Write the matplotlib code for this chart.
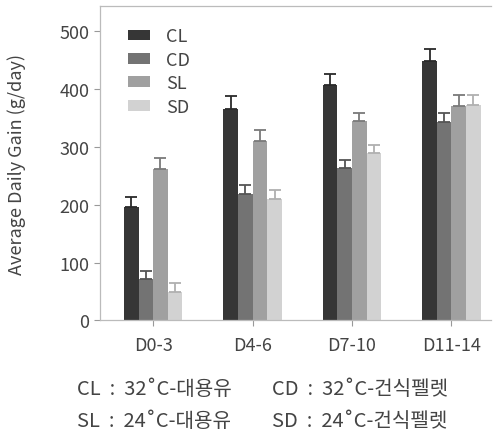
import numpy as np
import matplotlib
matplotlib.use("Agg")
import matplotlib.pyplot as plt

plt.rcParams['font.family'] = ['Noto Sans CJK KR', 'DejaVu Sans']

# 기간 및 처리구
periods = ["D0-3", "D4-6", "D7-10", "D11-14"]
groups = ["CL", "CD", "SL", "SD"]

# 평균 일당증체량 (g/day)
cl_mean = [196, 366, 407, 449]
cd_mean = [72, 218, 263, 343]
sl_mean = [262, 311, 344, 371]
sd_mean = [49, 210, 289, 372]

# 표준오차
cl_err = [17, 22, 20, 21]
cd_err = [13, 16, 15, 15]
sl_err = [19, 18, 15, 19]
sd_err = [16, 15, 15, 17]

# 범례 설명
notes_left = ["CL  :  32˚C-대용유", "SL  :  24˚C-대용유"]
notes_right = ["CD  :  32˚C-건식펠렛", "SD  :  24˚C-건식펠렛"]

means = [cl_mean, cd_mean, sl_mean, sd_mean]
errs = [cl_err, cd_err, sl_err, sd_err]
colors = ['#363636', '#737373', '#a0a0a0', '#d2d2d2']
err_colors = ['#2a2a2a', '#555555', '#7a7a7a', '#b0b0b0']

fig = plt.figure(figsize=(4.94, 4.39), dpi=100)
ax = fig.add_axes([0.2024, 0.268, 0.792, 0.715])

x = np.arange(len(periods))
w = 0.147
for i in range(4):
    pos = x + (i - 1.5) * w
    ax.bar(pos, means[i], width=w, color=colors[i], label=groups[i], zorder=2)
    ax.errorbar(pos, means[i], yerr=[np.zeros(4), errs[i]], fmt='none',
                ecolor=err_colors[i], elinewidth=1.3, capsize=4, capthick=1.3, zorder=3)

ax.set_xlim(-0.535, 3.4)
ax.set_ylim(0, 543)
ax.set_yticks([0, 100, 200, 300, 400, 500])
ax.set_xticks(x)
ax.set_xticklabels(periods)
ax.tick_params(axis='both', labelsize=13, colors='#999999', labelcolor='#444444',
               length=4, width=0.8)
ax.tick_params(axis='x', pad=7)
ax.set_ylabel("Average Daily Gain (g/day)", fontsize=13, color='#444444', labelpad=24)

for s in ['left', 'bottom', 'top']:
    ax.spines[s].set_color('#bbbbbb')
    ax.spines[s].set_linewidth(0.9)
ax.spines['right'].set_visible(False)

leg = ax.legend(loc='upper left', bbox_to_anchor=(0.03, 0.985), frameon=False,
                fontsize=13, handlelength=1.2, handleheight=0.55,
                labelspacing=0.3, handletextpad=0.9)
for t in leg.get_texts():
    t.set_color('#444444')

for row, yf in enumerate([0.112, 0.041]):
    fig.text(0.156, yf, notes_left[row], ha='left', va='center',
             fontsize=14.5, color='#444444')
    fig.text(0.551, yf, notes_right[row], ha='left', va='center',
             fontsize=14.5, color='#444444')

fig.savefig("out.png", dpi=100)
